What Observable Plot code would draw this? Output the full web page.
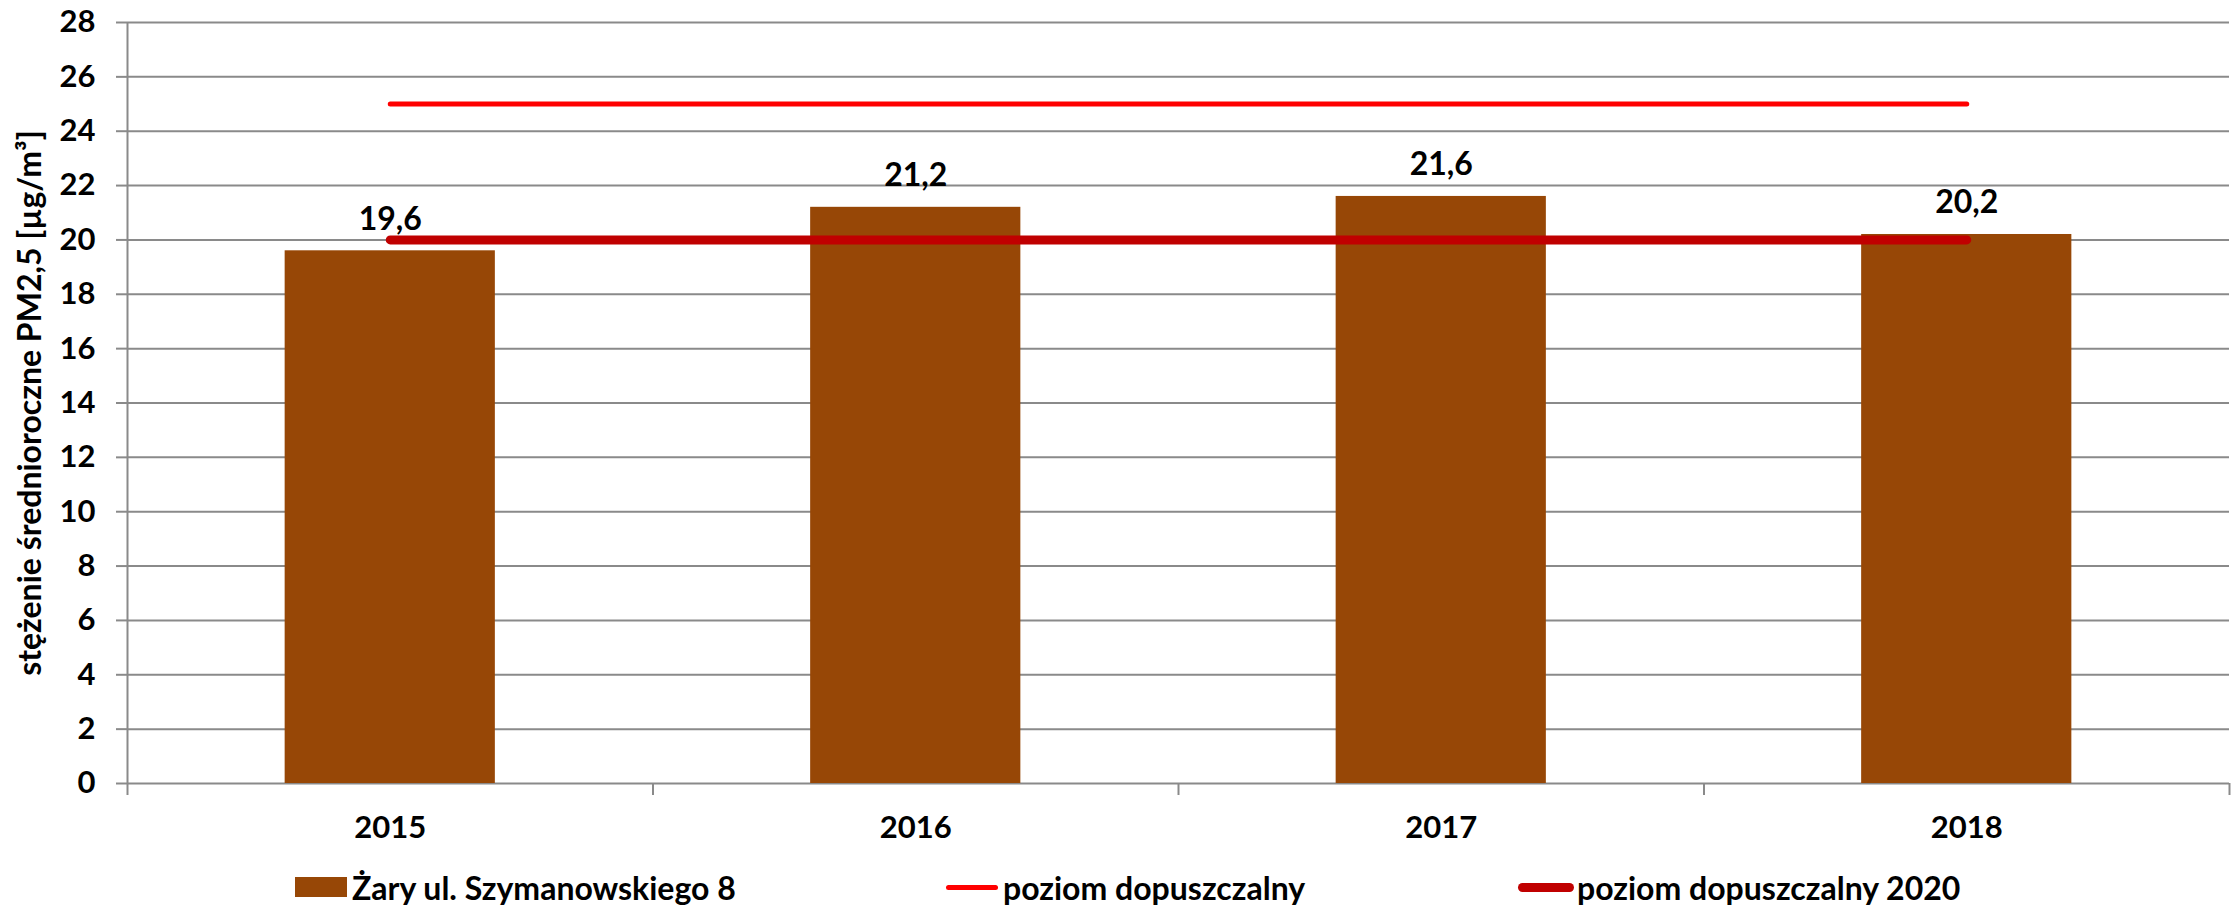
<!DOCTYPE html>
<html>
<head>
<meta charset="utf-8">
<script src="https://cdn.jsdelivr.net/npm/d3@7"></script>
<script src="https://cdn.jsdelivr.net/npm/@observablehq/plot@0.6"></script>
<style>
  html, body { margin: 0; padding: 0; background: #fff; overflow: hidden; }
  #chart { width: 2237px; }
  .legend { position: relative; width: 2237px; height: 51px; font-family: Lato, sans-serif; font-weight: bold; font-size: 32px; color: #000; }
  .item { position: absolute; top: 12px; height: 40px; display: flex; align-items: center; white-space: nowrap; }
  .sw { display: inline-block; margin-right: 5px; }
</style>
</head>
<body>
<div id="chart"></div>
<div class="legend">
  <div class="item" style="left:295px"><span class="sw" style="width:52px;height:20px;background:#974706"></span><span id="l1"></span></div>
  <div class="item" style="left:946px"><span class="sw" style="width:52px;height:5px;border-radius:3px;background:#ff0000"></span><span id="l2"></span></div>
  <div class="item" style="left:1518px"><span class="sw" style="width:56px;height:9px;border-radius:5px;background:#c00000;margin-right:3px"></span><span id="l3"></span></div>
</div>
<script>
const years = [2015, 2016, 2017, 2018];
const values = [19.6, 21.2, 21.6, 20.2];
const limit = [25, 25, 25, 25];
const limit2020 = [20, 20, 20, 20];
const yTicks = [0, 2, 4, 6, 8, 10, 12, 14, 16, 18, 20, 22, 24, 26, 28];
const xBoundaries = [2014.5, 2015.5, 2016.5, 2017.5, 2018.5];
const seriesNames = ["Żary ul. Szymanowskiego 8", "poziom dopuszczalny", "poziom dopuszczalny 2020"];
const yTitle = "stężenie średnioroczne PM2,5 [µg/m³]";

const bars = years.map((year, i) => ({year, value: values[i]}));
const fmt = v => v.toFixed(1).replace(".", ",");
const grid = "#8a8a8a";

const chart = Plot.plot({
  width: 2237,
  height: 855,
  marginTop: 22,
  marginBottom: 72,
  marginLeft: 127,
  marginRight: 8,
  style: {fontFamily: "Lato, sans-serif", fontWeight: "bold", fontSize: "31px", color: "#000", background: "#fff"},
  x: {domain: [xBoundaries[0], xBoundaries[xBoundaries.length - 1]], axis: null},
  y: {domain: [0, 28], axis: null},
  marks: [
    Plot.gridY(yTicks, {stroke: grid, strokeOpacity: 1, strokeWidth: 2}),
    Plot.ruleX([xBoundaries[0]], {stroke: grid, strokeWidth: 2}),
    Plot.axisX(xBoundaries, {tickSize: 12, tickFormat: () => "", stroke: grid, strokeWidth: 2, label: null}),
    Plot.axisX(years, {tickSize: 0, tickPadding: 32, tickFormat: d => String(d), fill: "#000", fontSize: 31, fontWeight: "bold", label: null}),
    Plot.axisY(yTicks, {tickSize: 11, tickPadding: 21, stroke: grid, strokeWidth: 2, fill: "#000", fontSize: 31, fontWeight: "bold", label: null}),
    Plot.rectY(bars, {x1: d => d.year - 0.2, x2: d => d.year + 0.2, y: "value", fill: "#974706"}),
    Plot.lineY(years, {x: years, y: limit, stroke: "#ff0000", strokeWidth: 5, strokeLinecap: "round"}),
    Plot.lineY(years, {x: years, y: limit2020, stroke: "#c00000", strokeWidth: 9, strokeLinecap: "round"}),
    Plot.text(bars, {x: "year", y: "value", text: d => fmt(d.value), dy: -21, lineAnchor: "bottom", fill: "#000", fontSize: 32, fontWeight: "bold"}),
    Plot.text([yTitle], {frameAnchor: "left", rotate: -90, dx: -97, textAnchor: "middle", lineAnchor: "middle", fill: "#000", fontSize: 32, fontWeight: "bold"})
  ]
});
document.getElementById("chart").appendChild(chart);
document.getElementById("l1").textContent = seriesNames[0];
document.getElementById("l2").textContent = seriesNames[1];
document.getElementById("l3").textContent = seriesNames[2];
</script>
</body>
</html>
